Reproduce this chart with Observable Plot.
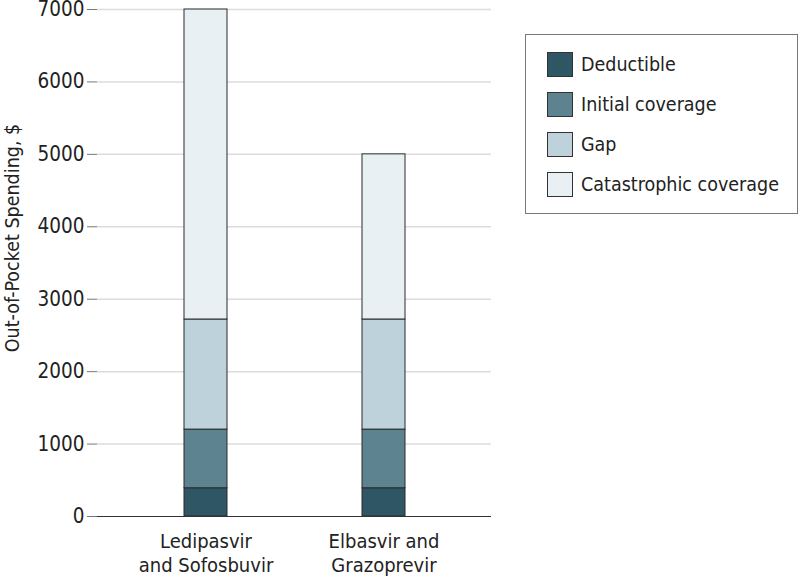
<!DOCTYPE html>
<html>
<head>
<meta charset="utf-8">
<script src="https://cdn.jsdelivr.net/npm/d3@7"></script>
<script src="https://cdn.jsdelivr.net/npm/@observablehq/plot@0.6"></script>
<style>
  html, body { margin: 0; padding: 0; background: #fff; }
  #wrap { position: relative; width: 800px; height: 576px; font-family: "DejaVu Sans Condensed", "Liberation Sans Narrow", Roboto, sans-serif; color: #222; }
  #ylabel { position: absolute; left: 12px; top: 238px; transform: translate(-50%, -50%) rotate(-90deg); white-space: nowrap; font-size: 19.5px; }
  #legend { position: absolute; left: 525px; top: 34px; width: 273px; height: 180px; border: 1px solid #777; box-sizing: border-box; padding: 16px 0 0 21px; }
  .item { display: flex; align-items: center; height: 40px; margin-top: 0; font-size: 19.5px; }
  .item:first-child { margin-top: -7px; }
  .sw { width: 26px; height: 25px; border: 1px solid #333; margin-right: 8px; box-sizing: border-box; }
</style>
</head>
<body>
<div id="wrap">
  <div id="chart"></div>
  <div id="ylabel"></div>
  <div id="legend"></div>
</div>
<script>
const drugs = ["Ledipasvir\nand Sofosbuvir", "Elbasvir and\nGrazoprevir"];
const phases = ["Deductible", "Initial coverage", "Gap", "Catastrophic coverage"];
const phaseColors = ["#2f5665", "#5d8390", "#bdd2da", "#e8f0f4"];
// out-of-pocket amount within each phase, in $
const ledipasvirSofosbuvir = [390, 810, 1520, 4280];
const elbasvirGrazoprevir = [390, 810, 1520, 2280];
const yTicks = [0, 1000, 2000, 3000, 4000, 5000, 6000, 7000];
const yLabel = "Out-of-Pocket Spending, $";

const series = [ledipasvirSofosbuvir, elbasvirGrazoprevir];
const data = [];
drugs.forEach((d, i) => phases.forEach((p, j) => data.push({drug: d, phase: p, value: series[i][j]})));

const chart = Plot.plot({
  width: 800,
  height: 576,
  marginLeft: 97,
  marginRight: 309,
  marginTop: 9,
  marginBottom: 60,
  style: {fontFamily: '"DejaVu Sans Condensed", "Liberation Sans Narrow", Roboto, sans-serif', fontSize: "20px", color: "#222", background: "#fff"},
  x: {domain: drugs, paddingInner: 0.759, paddingOuter: 0.483, axis: null},
  y: {domain: [0, 7000], axis: null},
  color: {domain: phases, range: phaseColors},
  marks: [
    Plot.ruleY(yTicks.filter(t => t > 0), {stroke: "#dcdcdc", strokeWidth: 1.5}),
    Plot.barY(data, {x: "drug", y: "value", fill: "phase", stroke: "#2a2a2a", strokeWidth: 1}),
    Plot.ruleY([0], {stroke: "#333", strokeWidth: 1.2}),
    Plot.axisY({ticks: yTicks, tickSize: 10, tickPadding: 3, stroke: "#777", fill: "#222", label: null, fontSize: 20.5, tickFormat: d => String(d), line: true}),
    Plot.axisX({tickSize: 0, tickPadding: 15, fill: "#222", label: null, fontSize: 20, lineHeight: 1.18})
  ]
});
document.getElementById("chart").appendChild(chart);
document.getElementById("ylabel").textContent = yLabel;

const legend = document.getElementById("legend");
phases.forEach((p, j) => {
  const it = document.createElement("div");
  it.className = "item";
  const sw = document.createElement("div");
  sw.className = "sw";
  sw.style.background = phaseColors[j];
  const tx = document.createElement("span");
  tx.textContent = p;
  it.appendChild(sw);
  it.appendChild(tx);
  legend.appendChild(it);
});
</script>
</body>
</html>
